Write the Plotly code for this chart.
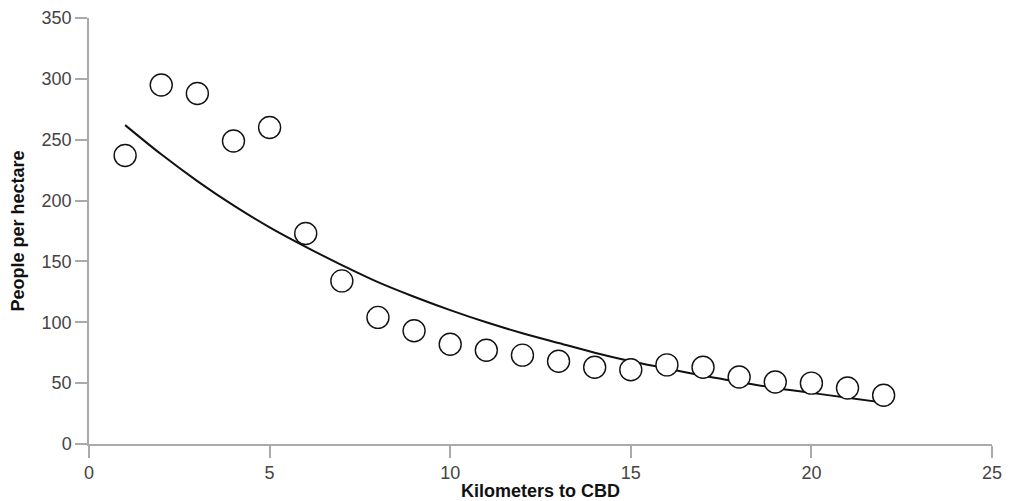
import plotly.graph_objects as go

km = list(range(1, 23))
density = [237, 295, 288, 249, 260, 173, 134, 104, 93, 82, 77, 73, 68, 63, 61, 65, 63, 55, 51, 50, 46, 40]
trend = [262, 238, 216, 196, 178, 162, 147, 133, 121, 110, 100, 91, 83, 75, 68, 62, 56, 51, 46, 42, 38, 34]

x_ticks = [0, 5, 10, 15, 20, 25]
y_ticks = [0, 50, 100, 150, 200, 250, 300, 350]

FONT = "Liberation Sans, Arial, Helvetica, sans-serif"

fig = go.Figure()
fig.add_trace(go.Scatter(x=km, y=trend, mode="lines", line=dict(color="#111111", width=2, shape="spline"),
                         hoverinfo="skip", showlegend=False))
fig.add_trace(go.Scatter(x=km, y=density, mode="markers",
                         marker=dict(size=22, color="white", line=dict(color="#111111", width=1.4)),
                         showlegend=False))

axis_common = dict(showgrid=False, zeroline=False, showline=True, linecolor="#aaaaaa", linewidth=1.5,
                   ticks="outside", tickcolor="#aaaaaa", ticklen=12, tickwidth=1.5, automargin=False,
                   ticklabeloverflow="allow",
                   tickfont=dict(family=FONT, size=18, color="#444444"))

fig.update_layout(
    width=1002, height=493,
    margin=dict(l=81, r=18, t=10, b=57, pad=0),
    plot_bgcolor="white", paper_bgcolor="white",
    xaxis=dict(range=[0, 25], tickvals=x_ticks, title=dict(text="<b>Kilometers to CBD</b>", standoff=2,
               font=dict(family=FONT, size=18, color="#111111")), **axis_common),
    yaxis=dict(range=[0, 350], tickvals=y_ticks, title=dict(text="<b>People per hectare</b>", standoff=22,
               font=dict(family=FONT, size=18, color="#111111")), **axis_common),
)

fig.write_html("out.html")
